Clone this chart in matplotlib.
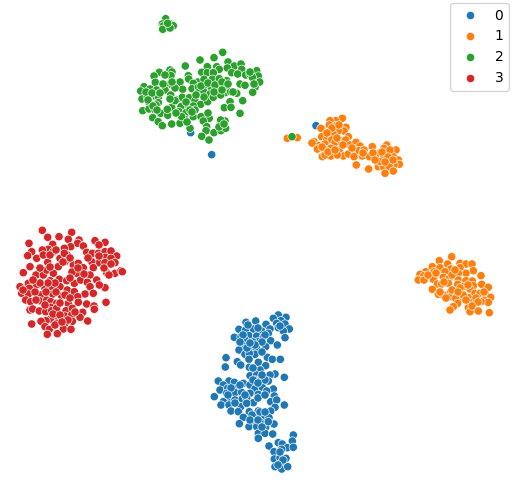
import numpy as np
import pandas as pd
import matplotlib
matplotlib.use('Agg')
import matplotlib.pyplot as plt
import seaborn as sns

# embedding coordinates
x0 = [278.3,286,273.3,246,255.7,266,281,276.7,285,278.3,289.3,283.3,239,245.7,253.3,261.7,270,268.3,234.3,241,249,256.7,263.3,285,270.7,245,251,258.3,265.7,277.3,243.3,239,245,251,256.7,255,249.3,226,267.3,272.3,280.3,237.3,249,258.3,240.7,225.3,249.3,265.7,260,250,275,270,256.7,284.3,218.3,229,255,261.7,268.3,223.3,234.3,243.3,250,260,273.3,220,227.7,236.7,255,262.3,266.7,226.7,235,241.7,250,258.3,214.3,227.7,235,242.3,246.7,274.3,270.7,276.7,223.3,221,229,240.7,253.3,246.7,284.3,275,270.7,231,238.3,249.3,258.3,255,243.3,263.3,269,239.3,253.3,260,274,249,256.7,265.7,268.3,258.3,265,272.7,258.3,269,293.3,278.3,282.3,292.3,287.3,293.3,274,281.7,274.3,280,286,281,275,281.7,287.7,190.7,211.7,316,
      248,258,265,243,253,262,247,255,262,250,240,280,231,240,228,245,235,253,265,258,258,265,252,260,265,250,258,262,280,283,278,253,262]
y0 = [315,317.3,318.3,322.3,321,324.3,320.7,323.3,324,327.7,329,331,329.3,330,329,331,329,333.3,337.3,336.7,335.7,336,337.3,337.7,340.7,340,343.3,341.7,346.7,345,345.7,350,354.3,348.3,348.3,354.3,353.3,357.7,357.3,359.3,359.3,361.7,359.3,362.3,365,367,367.3,365.7,370,375.7,374,375,375,377.3,381,381,380,377.7,381,385,382.3,383.3,385,385,389,390,388.3,388.3,389,387.3,391,393.3,392.7,392.3,393.3,394.3,396.7,398.3,400,399,398.3,396,401.7,400,401.7,405,405,406.7,402.7,403.3,405,407.3,411,411,411.7,411.7,411,416.7,417.3,417.7,417.7,423.7,421.7,421.7,424,426.7,426.7,427.3,421.7,433.3,433.3,434,438.3,446,435,442.7,444,441,447.7,447.3,451.7,449.3,459,457.7,458.3,463.3,466.7,469,466.7,132.7,154.7,125.7,
      325,328,335,335,342,342,348,345,352,343,342,326,388,385,395,395,403,380,380,383,398,395,415,412,412,420,420,427,452,460,465,368,375]

x1 = [287.3,297.3,321,342.3,335.7,330,329.3,336,346,344,338.3,333.3,321.7,348.3,326.7,331.7,335,340.7,345.7,314,319,317.3,325,330.7,324.3,339.3,343.3,322.3,330.7,325,337.3,348.3,350,356,360,355,359,364,354,362.3,369.3,356.3,368.7,372.3,379.3,386,396,386.7,384,393.3,383.3,389.3,398.3,399.3,394,378.3,383.3,389.3,385,393.3,380,451.7,439.3,447.7,460,466,472,432.3,460,450.7,473.3,466,425.7,434,440,445,458.3,481,420,424,418.3,424,434,443.3,449.3,458.3,466,472.3,433.3,437.3,441.7,448.3,457.7,463.3,473.3,481.7,488.3,432.3,470,456.7,450,438.3,443.3,450.7,462.3,455.7,469.3,475,480,486,490.7,484,488.3,473.3,481,457.7,453.3,450,468.3,470,478.3,489.3,463.3,
      332,339,327,337,343,322,328,335,352,363,373,382,390,388,393,385,375,312,428,436,452,444,460,468,452,440,446,458,476,484,478,466,472,455]
y1 = [138.3,137.7,128.3,118.3,120.7,120.7,125,125.7,127.3,131,130.7,134,136.7,136.7,140,140,142.3,140.7,140,141.7,145.7,149,144,148.3,149,150,156,156.7,156,155,155,154,145,142.3,146,150,150.7,150,156.7,156,156.7,165,169,146.7,153.3,153.3,150,145,148.3,156.7,157.7,160.7,160,164.3,165,166.7,166.7,166.7,173.3,171,161.7,256.7,260.7,264,263.3,264,264,266.7,267.7,269,270.7,273.3,271.7,271.7,267.7,271.7,273.3,275.7,274.3,275.7,280,280,277.3,277.3,278.3,280,280.7,281,279.3,284,284,283.3,284.3,286.7,285.7,284.3,287.3,289.3,289,291.7,292.7,294.3,295,296.7,298.3,298.3,297.7,293.3,293.3,295,297.3,300,302.3,302.3,301.7,303.3,306.7,310,307.7,311.7,311,312.7,295,
      128,125,133,138,145,147,152,150,148,153,153,152,150,157,160,162,160,143,275,273,275,282,288,285,290,292,298,292,298,292,302,300,306,270]

x2 = [165.7,162.3,163.3,162.7,170.7,173.3,170,167.7,222.7,214,200,185.3,207.3,228,234.3,241,216.7,219.3,227.3,241.7,170,172,159.3,154,171,188.3,188.7,201.7,207.3,213.3,231.7,237.7,245.7,250,256.7,258.3,252.3,259.7,180,165,155.3,169.3,165,197.7,193.3,204,212.3,219.3,226.7,240,245,255,252.7,144,140.7,150,156.7,165,182.7,192,198.3,205,211.7,219.3,225.7,198.3,204,210,216.7,225,230.7,236.7,170.7,176.7,182.3,189.3,195,200.7,207.7,213.3,220.7,142,147.3,156,158.3,149,158.3,156,142.7,149,155,160.7,152.7,158.3,162.3,167.7,171.7,167.3,181,188.3,193.3,195,179,186,193.3,185,180,171.7,190,201,209.3,203.3,206.7,206,214,221,220,225,220.7,225.7,201.7,209,230,224.3,231,242.7,240,190,181.7,175,
      201,208,215,222,228,204,214,222,233,196,146,152,160,148,153,175,170,186,192,187,176,208,219,224,157,163,172,250,254,292]
y2 = [18.7,24,26,29.3,24,25.7,28,23.3,52.3,57.7,60,66,66.7,62,66,64,66.7,69.3,68,69.3,70,72,72.3,76,75.7,75.7,79,72.3,72.7,72.7,72.7,74,75,74.3,70.7,76,77.3,82,82,75,82.3,84,84.7,82,83.3,79.3,79.3,78.7,80.7,84,85.3,87.3,92.3,86.7,91,89,90,90,89.3,88.7,87.3,86,88.3,86,86,92.7,92,94,91,92.7,91.7,93.3,95,100,97.3,97.7,100.7,104.3,101.7,97.3,95,99,97.3,96.7,97.3,102.7,102.7,105,110.7,109,110,113.3,117.7,121.7,125.7,115.3,107.3,109.3,106.7,105,106,110,111.7,112.7,116.7,119.3,123.3,124,128.3,116.7,118.3,121,126.7,130.7,132.7,130.7,124.3,121,120,128.3,136.3,140,101.7,107.7,107.3,100.7,113.3,110,116.7,100.7,
      86,83,85,82,84,97,92,90,92,95,92,93,93,100,106,88,99,102,112,122,113,113,127,124,110,84,82,72,84,136.7]

x3 = [42.3,71.7,47.7,59,68.3,79,29,52.7,77.7,95,105,99,83.3,70.7,64.3,48.3,42.3,31.7,27.7,36.7,43.3,53.3,60,67.3,64.3,86.7,92.3,98.3,105,111,116.7,105,111,99.3,91.7,105,115,47.7,30,58.3,65,73.3,78.3,83.3,93.3,106.7,115,121,122.3,109,23.3,36,43.3,46.7,53.3,76.7,90,50,59.3,66.7,74.3,80.7,87.3,96.7,28.3,36.7,20,29.3,45,52.3,60,67.3,74.3,105,99.3,90,85,93.3,21.7,28.3,40.7,52.7,61.7,77.7,25.7,30.7,39.3,46.7,50.7,56.7,68.3,78.3,86.7,94,106,50.7,30,32.7,39.3,45.7,51.7,56.7,66,72.3,82.7,94.3,65,71.7,80,87.7,56,50.7,46,41,31.7,56.7,65,72.3,45,49.3,63.3,71,47.3,57.3,
      50,56,70,63,72,78,84,70,55,48,40,35,46,56,65,70,60,45,53,60,68,55,62,40,50,36,99,104,111,88,23,33,75]
y3 = [230.3,232.3,237.3,236.7,239.3,240,243.3,244.3,243.3,240.7,242.3,245,246,246.7,248.3,249.3,250,251.7,255.7,258.3,255,251.7,258.3,255,253.3,252.3,253.3,253.3,251.7,251,256,257.3,258.3,262.7,261.7,262.7,262.7,262.3,266.7,266.7,261.7,265,263.3,267.7,267.7,272.7,273.3,270.7,271.7,275,272.7,275,275,270,273.3,273.3,275,280.7,279.3,280.7,283.3,280,282.3,280,283.3,285,286.7,288.3,288.3,288.3,286.7,290,291.7,287.7,285,286.7,294,293.3,293.3,294,295,294,296,296.7,300,301.7,300.7,300,301.7,303.3,303.3,302.3,304,306,302.3,307.3,310,309,311,311.7,310.7,308.3,310.7,308.3,312.3,309.3,316,315,317.3,321,317.3,319,320.7,321.3,324,323.3,323.3,321.3,326.7,329.3,329,329.3,334.3,333.7,
      255,250,258,262,272,268,274,278,283,283,283,292,292,292,295,298,303,305,314,315,320,325,322,268,267,300,256,268,264,258,290,280,312]

df = pd.DataFrame({
    'x': x0 + x1 + x2 + x3,
    'y': y0 + y1 + y2 + y3,
    'label': [0]*len(x0) + [1]*len(x1) + [2]*len(x2) + [3]*len(x3),
})

fig = plt.figure(figsize=(5.15, 4.91), dpi=100)
ax = fig.add_axes([0, 0, 1, 1])
sns.scatterplot(data=df, x='x', y='y', hue='label', palette='tab10', ax=ax)
ax.set_xlim(0, 515)
ax.set_ylim(491, 0)
ax.axis('off')
ax.legend(loc='upper right', bbox_to_anchor=(0.9884, 0.9939), borderaxespad=0.0)
fig.savefig('out.png', dpi=100)
